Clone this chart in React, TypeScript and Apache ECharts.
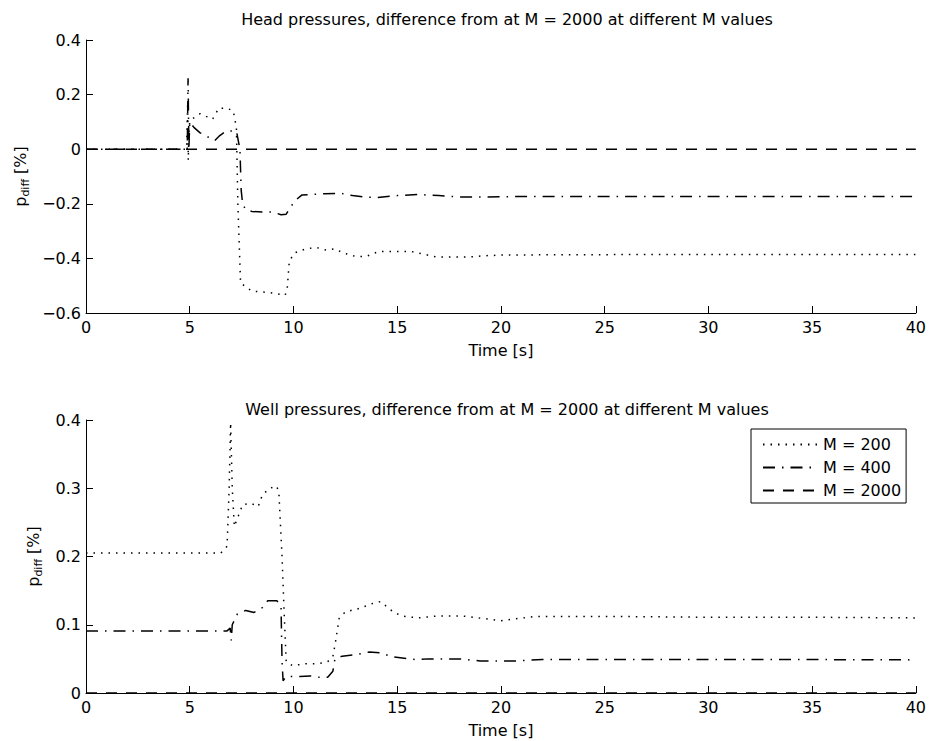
import React, { useEffect, useRef } from "react";
import * as echarts from "echarts";

const seriesNames = ["M = 200", "M = 400", "M = 2000"];
const titles = [
  "Head pressures, difference from at M = 2000 at different M values",
  "Well pressures, difference from at M = 2000 at different M values",
];
const xName = "Time [s]";

// Head pressures (top)
const headT200 = [0, 4.85, 4.9, 4.93, 4.96, 5.0, 5.1, 5.5, 6.1, 6.4, 6.8, 7.1, 7.25, 7.32, 7.45, 8.0, 8.85, 9.6, 9.7, 9.8, 10.05, 10.6, 11.1, 11.6, 12.0, 12.4, 13.0, 13.5, 14.1, 15, 15.7, 16.3, 16.9, 17.5, 18.4, 19.3, 20, 22, 26, 30, 35, 40];
const headP200 = [0, 0, 0.17, -0.04, 0.06, 0.1, 0.11, 0.13, 0.11, 0.15, 0.15, 0.14, 0.08, -0.2, -0.49, -0.52, -0.525, -0.535, -0.51, -0.41, -0.38, -0.365, -0.36, -0.37, -0.365, -0.38, -0.393, -0.393, -0.375, -0.375, -0.375, -0.385, -0.395, -0.395, -0.395, -0.39, -0.388, -0.387, -0.386, -0.386, -0.386, -0.386];

const headT400 = [0, 4.88, 4.92, 4.96, 5.0, 5.2, 5.5, 5.8, 6.2, 6.45, 6.75, 7.25, 7.42, 7.48, 7.55, 7.7, 8.0, 8.5, 9.0, 9.4, 9.65, 9.85, 10.1, 10.4, 10.9, 11.5, 12.3, 12.85, 13.4, 14, 15, 16, 17, 18, 19, 20, 22, 25, 30, 35, 40];
const headP400 = [0, 0, 0.26, 0.0, 0.1, 0.08, 0.06, 0.048, 0.031, 0.05, 0.066, 0.067, 0.0, -0.15, -0.2, -0.222, -0.228, -0.23, -0.23, -0.24, -0.238, -0.213, -0.187, -0.168, -0.166, -0.163, -0.162, -0.17, -0.175, -0.177, -0.17, -0.166, -0.17, -0.175, -0.175, -0.174, -0.173, -0.173, -0.173, -0.173, -0.173];

const headT2000 = [0, 40];
const headP2000 = [0, 0];

// Well pressures (bottom)
const wellT200 = [0, 6.5, 6.8, 6.9, 6.97, 7.05, 7.15, 7.55, 7.95, 8.3, 8.5, 8.85, 9.2, 9.3, 9.45, 9.55, 9.65, 9.95, 10.6, 11.2, 11.65, 11.9, 12.05, 12.2, 12.5, 13.2, 13.8, 14.2, 14.8, 15.2, 16, 17, 18.1, 19.2, 20, 20.8, 21.6, 23, 26, 30, 35, 40];
const wellP200 = [0.205, 0.205, 0.215, 0.3, 0.396, 0.3, 0.244, 0.276, 0.278, 0.273, 0.29, 0.3, 0.303, 0.292, 0.2, 0.119, 0.046, 0.04, 0.043, 0.043, 0.046, 0.053, 0.079, 0.109, 0.119, 0.124, 0.131, 0.134, 0.119, 0.113, 0.11, 0.113, 0.113, 0.109, 0.106, 0.109, 0.112, 0.112, 0.112, 0.111, 0.111, 0.11];

const wellT400 = [0, 6.8, 6.95, 7.0, 7.05, 7.3, 7.7, 8.1, 8.5, 8.75, 9.2, 9.4, 9.45, 9.5, 9.65, 10.3, 10.8, 11.25, 11.65, 11.9, 12.0, 12.35, 13.0, 13.65, 14.2, 14.75, 15.9, 16.5, 18, 19, 20.7, 22, 25, 30, 35, 40];
const wellP400 = [0.091, 0.091, 0.095, 0.077, 0.1, 0.116, 0.121, 0.118, 0.125, 0.135, 0.135, 0.128, 0.046, 0.018, 0.024, 0.024, 0.025, 0.023, 0.023, 0.032, 0.05, 0.054, 0.056, 0.06, 0.059, 0.053, 0.049, 0.05, 0.05, 0.047, 0.047, 0.049, 0.049, 0.049, 0.049, 0.0485];

const wellT2000 = [0, 40];
const wellP2000 = [0, 0];

const FONT = "DejaVu Sans";

const zip = (t: number[], v: number[]) => t.map((x, i) => [x, v[i]]);

const dashTypes: any[] = [[1.5, 6], [12, 7, 1.5, 7], [11, 9]];

export default function App() {
  const ref = useRef<HTMLDivElement>(null);
  useEffect(() => {
    if (!ref.current) return;
    const chart = echarts.init(ref.current, null, { renderer: "svg" });
    const fmt = (v: number) => {
      const r = parseFloat(v.toFixed(2));
      return r < 0 ? "\u2212" + String(Math.abs(r)) : String(r);
    };
    const xAxisBase = (gridIndex: number) => ({
      type: "value",
      gridIndex,
      min: 0,
      max: 40,
      interval: 5,
      name: xName,
      nameLocation: "middle",
      nameGap: 29,
      nameTextStyle: { fontFamily: FONT, fontSize: 16, color: "#000" },
      axisLine: { show: true, onZero: false, lineStyle: { color: "#000", width: 1 } },
      axisTick: { show: true, inside: true, length: 7, lineStyle: { color: "#000" } },
      axisLabel: { fontFamily: FONT, fontSize: 16, color: "#000", margin: 6 },
      splitLine: { show: false },
    });
    const yName = "{a|p}{b|diff}{a| [%]}";
    const yRich = {
      a: { fontFamily: FONT, fontSize: 16, color: "#000", lineHeight: 22, verticalAlign: "middle" },
      b: { fontFamily: FONT, fontSize: 11, color: "#000", lineHeight: 10, verticalAlign: "bottom" },
    };
    const yAxisBase = (gridIndex: number, min: number, max: number, interval: number, gap: number) => ({
      type: "value",
      gridIndex,
      min,
      max,
      interval,
      name: yName,
      nameLocation: "middle",
      nameGap: gap,
      nameTextStyle: { rich: yRich },
      axisLine: { show: true, onZero: false, lineStyle: { color: "#000", width: 1 } },
      axisTick: { show: true, inside: true, length: 7, lineStyle: { color: "#000" } },
      axisLabel: { fontFamily: FONT, fontSize: 16, color: "#000", margin: 5, formatter: fmt },
      splitLine: { show: false },
    });
    const mk = (name: string, idx: number, gridIdx: number, data: number[][]) => ({
      type: "line",
      name,
      xAxisIndex: gridIdx,
      yAxisIndex: gridIdx,
      data,
      showSymbol: false,
      symbol: "none",
      z: 3,
      itemStyle: { color: "#000" },
      lineStyle: { color: "#000", width: 1.5, type: dashTypes[idx] },
    });
    chart.setOption({
      animation: false,
      backgroundColor: "#fff",
      color: ["#000", "#000", "#000"],
      textStyle: { fontFamily: FONT },
      title: [
        { text: titles[0], left: 502, top: 6, textAlign: "center", textStyle: { fontFamily: FONT, fontSize: 16, fontWeight: "normal", color: "#000" } },
        { text: titles[1], left: 502, top: 396, textAlign: "center", textStyle: { fontFamily: FONT, fontSize: 16, fontWeight: "normal", color: "#000" } },
      ],
      legend: {
        data: seriesNames,
        orient: "vertical",
        left: 751,
        top: 429,
        itemWidth: 55,
        itemHeight: 14,
        itemGap: 6,
        padding: [7, 5, 4, 11],
        borderColor: "#000",
        borderWidth: 1,
        backgroundColor: "#fff",
        selectedMode: false,
        itemStyle: { opacity: 0 },
        textStyle: { fontFamily: FONT, fontSize: 16, color: "#000", lineHeight: 17 },
      },
      grid: [
        { left: 86, top: 40, width: 831, height: 273 },
        { left: 86, top: 420, width: 831, height: 273 },
      ],
      xAxis: [xAxisBase(0), xAxisBase(1)],
      yAxis: [yAxisBase(0, -0.6, 0.4, 0.2, 50), yAxisBase(1, 0, 0.4, 0.1, 42)],
      series: [
        mk(seriesNames[0], 0, 0, zip(headT200, headP200)),
        mk(seriesNames[1], 1, 0, zip(headT400, headP400)),
        mk(seriesNames[2], 2, 0, zip(headT2000, headP2000)),
        mk(seriesNames[0], 0, 1, zip(wellT200, wellP200)),
        mk(seriesNames[1], 1, 1, zip(wellT400, wellP400)),
        mk(seriesNames[2], 2, 1, zip(wellT2000, wellP2000)),
      ],
    });
    return () => chart.dispose();
  }, []);
  return <div ref={ref} style={{ position: "absolute", left: 0, top: 0, width: 929, height: 741 }} />;
}
